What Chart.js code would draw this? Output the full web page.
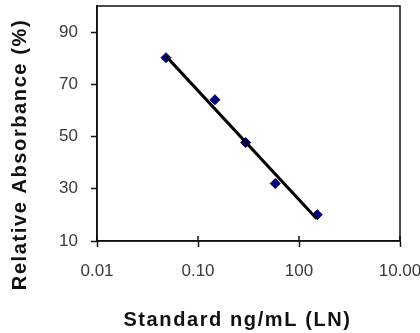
<!DOCTYPE html>
<html>
<head>
<meta charset="utf-8">
<script src="https://cdn.jsdelivr.net/npm/chart.js@4/dist/chart.umd.min.js"></script>
<style>
html,body{margin:0;padding:0;background:#fff;}
#wrap{width:420px;height:333px;}
</style>
</head>
<body>
<div id="wrap"><canvas id="c" width="420" height="333"></canvas></div>
<script>
// Data (x in decade positions along the axis, y in %)
const xTickLabels = ["0.01", "0.10", "100", "10.00"];
const yTickValues = [10, 30, 50, 70, 90];
const standardX = [0.683, 1.168, 1.472, 1.765, 2.181];
const absorbance = [80.2, 64.1, 47.7, 32.0, 20.1];
const fitX = [0.683, 2.175];
const fitY = [80.8, 18.5];

// Letter-spaced axis titles, nudged to where the reference places them
const origDrawTitle = Chart.Scale.prototype.drawTitle;
Chart.Scale.prototype.drawTitle = function() {
  const ctx = this.ctx;
  ctx.save();
  ctx.letterSpacing = '1.6px';
  if (this.isHorizontal()) ctx.translate(-11, 0);
  else ctx.translate(0, 31);
  origDrawTitle.apply(this, arguments);
  ctx.restore();
};

const boxPlugin = {
  id: 'box',
  beforeDatasetsDraw(chart) {
    const {ctx, chartArea: a} = chart;
    ctx.save();
    ctx.strokeStyle = '#111';
    ctx.lineWidth = 1.5;
    ctx.strokeRect(a.left, a.top, a.right - a.left, a.bottom - a.top);
    // x ticks also cross into the plot
    const xs = chart.scales.x;
    ctx.beginPath();
    xs.ticks.forEach(t => {
      const px = xs.getPixelForValue(t.value);
      ctx.moveTo(px, a.bottom);
      ctx.lineTo(px, a.bottom - 5);
    });
    ctx.stroke();
    ctx.restore();
  }
};

new Chart(document.getElementById('c'), {
  type: 'scatter',
  data: {
    datasets: [
      {
        type: 'line',
        label: 'Fit',
        data: fitX.map((x, i) => ({x, y: fitY[i]})),
        borderColor: '#000',
        borderWidth: 3,
        pointRadius: 0,
        fill: false,
        order: 0
      },
      {
        label: 'Standard',
        data: standardX.map((x, i) => ({x, y: absorbance[i]})),
        backgroundColor: '#00007a',
        borderColor: '#00007a',
        pointStyle: 'rectRot',
        pointRadius: 5,
        order: 1
      }
    ]
  },
  options: {
    responsive: false,
    animation: false,
    devicePixelRatio: 1,
    layout: {padding: {left: 0, right: 20, top: 4, bottom: 0}},
    plugins: {legend: {display: false}, tooltip: {enabled: false}},
    scales: {
      x: {
        type: 'linear',
        min: 0, max: 3,
        afterBuildTicks: s => { s.ticks = xTickLabels.map((_, i) => ({value: i})); },
        afterFit: s => { s.height = 92; s.paddingLeft = 0; s.paddingRight = 0; },
        grid: {drawOnChartArea: false, color: '#111', tickLength: 6, tickWidth: 1.5},
        border: {color: '#111', width: 1.5},
        ticks: {
          callback: (v) => xTickLabels[v] ?? '',
          color: '#3a3a3a',
          padding: 14,
          maxRotation: 0,
          font: {family: '"Liberation Sans", Arial, sans-serif', size: 17}
        },
        title: {
          display: true,
          text: 'Standard ng/mL (LN)',
          color: '#111',
          padding: {top: 0, bottom: 1},
          font: {family: '"Liberation Sans", Arial, sans-serif', size: 20, weight: 'bold'}
        }
      },
      y: {
        type: 'linear',
        min: 10, max: 100,
        afterBuildTicks: s => { s.ticks = yTickValues.map(v => ({value: v})); },
        afterFit: s => { s.width = 97; s.paddingTop = 0; s.paddingBottom = 0; },
        grid: {drawOnChartArea: false, color: '#111', tickLength: 6, tickWidth: 1.5},
        border: {color: '#111', width: 1.5},
        ticks: {
          color: '#3a3a3a',
          padding: 13,
          font: {family: '"Liberation Sans", Arial, sans-serif', size: 17}
        },
        title: {
          display: true,
          text: 'Relative Absorbance (%)',
          color: '#111',
          padding: {top: 8, bottom: 0},
          font: {family: '"Liberation Sans", Arial, sans-serif', size: 20, weight: 'bold'}
        }
      }
    }
  },
  plugins: [boxPlugin]
});
</script>
</body>
</html>
